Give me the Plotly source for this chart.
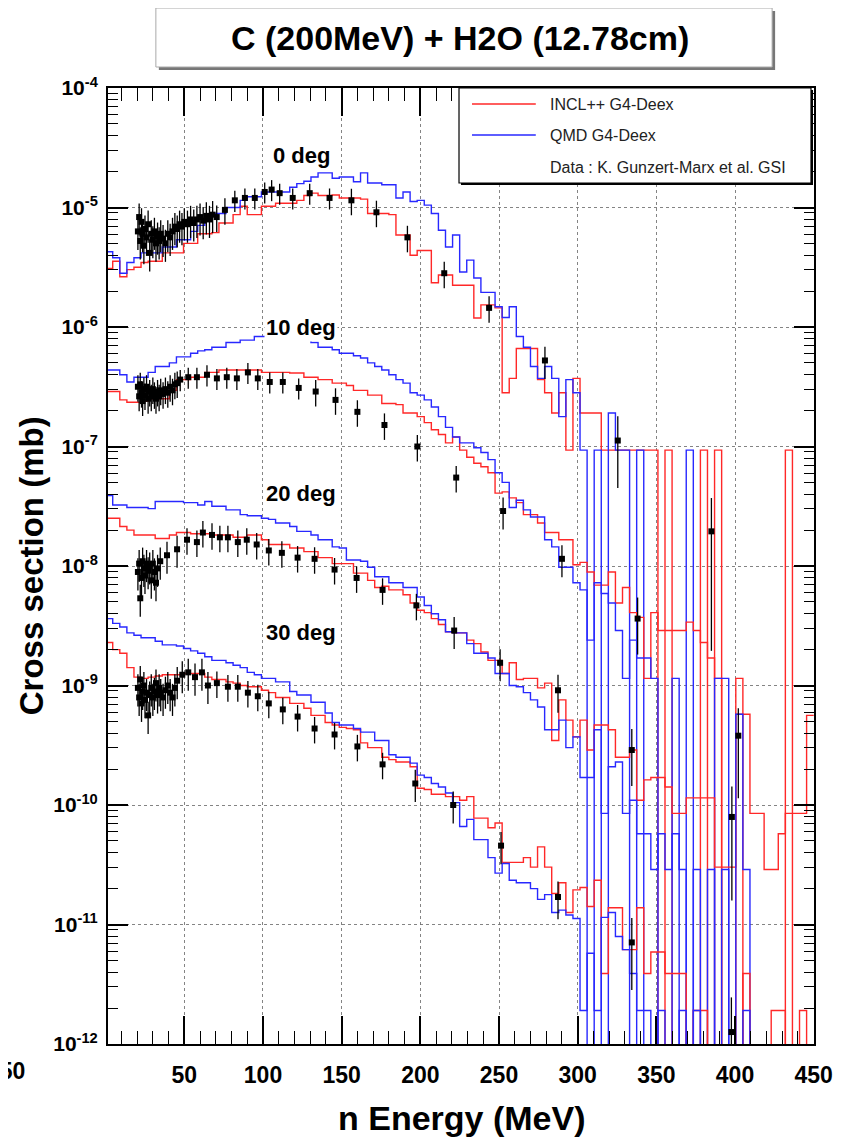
import plotly.graph_objects as go

# ---------------- data ----------------
# Histogram bins: 100 bins of 4.5 MeV between 0 and 450 MeV
bin_edges_mev = [round(4.5 * i, 2) for i in range(101)]

# log10(cross section [mb]) per bin; None = empty bin
incl_0deg = [
    -5.51, -5.45, -5.58, -5.52, -5.50, -5.46, -5.45, -5.45, -5.38, -5.38,
    -5.38, -5.30, -5.30, -5.22, -5.22, -5.21, -5.13, -5.13, -5.06, -4.99,
    -5.06, -5.06, -4.99, -4.99, -4.965, -4.965, -4.965, -4.94, -4.90, -4.88,
    -4.90, -4.90, -4.895, -4.92, -4.92, -4.92, -4.93, -5.05, -5.05, -5.05,
    -5.06, -5.23, -5.23, -5.40, -5.36, -5.36, -5.63, -5.565, -5.565, -5.65,
    -5.65, -5.65, -5.925, -5.815, -5.815, -5.84, -6.55, -6.43, -6.18, -6.18,
    -6.18, -6.44, -6.55, -6.72, -6.55, -7.03, -6.43, -6.72, -6.72, -6.72,
    -7.03, -7.03, -7.03, -7.03, -7.03, -7.03, -7.03, -7.03, None, -7.03,
    None, None, None, None, -7.03, None, -7.03, None, None, None,
    None, None, None, None, None, None, -7.03, None, None, None]
qmd_0deg = [
    -5.37, -5.42, -5.55, -5.46, -5.42, -5.38, -5.38, -5.38, -5.33, -5.33,
    -5.27, -5.27, -5.20, -5.15, -5.11, -5.05, -5.05, -5.00, -5.00, -4.94,
    -4.91, -4.91, -4.87, -4.87, -4.87, -4.87, -4.83, -4.80, -4.78, -4.745,
    -4.71, -4.71, -4.755, -4.745, -4.745, -4.785, -4.71, -4.795, -4.795, -4.81,
    -4.81, -4.92, -4.87, -4.95, -4.94, -4.98, -5.05, -5.19, -5.33, -5.23,
    -5.54, -5.44, -5.59, -5.71, -5.71, -5.83, -5.92, -5.83, -6.08, -6.17,
    -6.33, -6.43, -6.33, -6.43, -6.75, -6.44, -6.55, -7.03, None, -7.03,
    None, -6.72, -7.03, -7.03, None, -7.03, None, None, None, None,
    None, None, -7.03, None, None, None, None, None, None, None,
    None, None, None, None, None, None, None, None, None, None]
incl_10deg = [
    -6.54, -6.54, -6.61, -6.63, -6.63, -6.62, -6.60, -6.60, -6.60, -6.53,
    -6.44, -6.44, -6.42, -6.42, -6.38, -6.38, -6.36, -6.36, -6.36, -6.36,
    -6.36, -6.36, -6.38, -6.38, -6.38, -6.38, -6.385, -6.385, -6.42, -6.42,
    -6.44, -6.44, -6.47, -6.47, -6.49, -6.53, -6.53, -6.57, -6.57, -6.64,
    -6.64, -6.65, -6.72, -6.72, -6.75, -6.80, -6.86, -6.90, -6.97, -6.92,
    -7.03, -7.09, -7.14, -7.17, -7.22, -7.39, -7.38, -7.43, -7.47, -7.57,
    -7.57, -7.64, -7.72, -7.72, -7.78, -7.78, -7.99, -7.97, -8.05, -8.16,
    -8.16, -8.05, -8.31, -8.18, -8.39, -8.43, -8.94, -8.39, -8.54, -8.54,
    -8.54, -8.54, -8.47, -8.54, -8.64, -8.77, -8.94, None, None, -8.94,
    None, None, None, None, None, None, None, None, None, None]
qmd_10deg = [
    -6.36, -6.36, -6.40, -6.46, -6.42, -6.42, -6.38, -6.33, -6.33, -6.30,
    -6.25, -6.25, -6.22, -6.20, -6.19, -6.17, -6.17, -6.13, -6.13, -6.11,
    -6.11, -6.08, -6.08, -6.08, -6.10, -6.10, -6.10, -6.11, -6.11, -6.13,
    -6.17, -6.17, -6.19, -6.22, -6.22, -6.24, -6.26, -6.30, -6.33, -6.36,
    -6.40, -6.44, -6.47, -6.55, -6.57, -6.61, -6.67, -6.75, -6.84, -6.92,
    -6.97, -6.97, -7.01, -7.05, -7.11, -7.22, -7.30, -7.51, -7.45, -7.53,
    -7.59, -7.59, -7.78, -7.84, -8.01, -8.01, -8.14, -8.20, -8.62, -8.14,
    -8.23, -8.31, -8.54, -8.94, -8.62, -8.77, -8.77, -8.94, None, None,
    -8.94, None, None, None, None, None, -8.94, -8.94, None, None,
    None, None, None, None, None, None, None, None, None, None]
incl_20deg = [
    -7.60, -7.60, -7.67, -7.70, -7.74, -7.74, -7.74, -7.77, -7.77, -7.74,
    -7.72, -7.72, -7.73, -7.73, -7.73, -7.74, -7.74, -7.74, -7.76, -7.76,
    -7.74, -7.74, -7.78, -7.82, -7.82, -7.82, -7.85, -7.85, -7.88, -7.88,
    -7.93, -7.93, -7.98, -7.98, -7.98, -8.06, -8.06, -8.12, -8.18, -8.17,
    -8.20, -8.20, -8.24, -8.31, -8.37, -8.39, -8.44, -8.49, -8.55, -8.56,
    -8.56, -8.62, -8.65, -8.72, -8.79, -8.79, -8.90, -8.81, -8.95, -8.94,
    -8.94, -9.02, -8.98, -9.46, -9.12, -9.29, -9.43, -9.29, -9.54, -9.33,
    -9.33, -9.37, -9.60, -9.60, -9.54, -9.96, -9.79, -9.77, -9.77, -9.85,
    -10.07, -10.07, -9.94, -9.94, -9.94, -9.94, -10.52, -10.52, -10.52, -9.24,
    -9.24, -10.07, -10.07, -10.54, -10.54, -10.24, -10.07, -10.07, -10.07, -9.25]
qmd_20deg = [
    -7.41, -7.49, -7.49, -7.51, -7.51, -7.51, -7.52, -7.46, -7.46, -7.46,
    -7.46, -7.47, -7.47, -7.49, -7.46, -7.50, -7.50, -7.53, -7.53, -7.57,
    -7.58, -7.58, -7.60, -7.61, -7.64, -7.64, -7.67, -7.71, -7.71, -7.74,
    -7.78, -7.78, -7.84, -7.85, -7.95, -7.95, -7.96, -8.01, -8.09, -8.09,
    -8.14, -8.14, -8.18, -8.18, -8.26, -8.33, -8.40, -8.45, -8.55, -8.56,
    -8.56, -8.65, -8.73, -8.73, -8.77, -8.90, -8.90, -9.00, -9.01, -9.06,
    -9.12, -9.18, -9.37, -9.37, -9.29, -9.52, -9.43, -9.77, -9.77, -9.37,
    -10.07, -9.68, -9.64, -10.07, -9.96, -10.24, -10.24, -10.54, -10.24, -10.54,
    -10.24, -10.54, None, -10.54, None, -10.54, None, -10.54, None, -9.24,
    -10.54, None, None, None, None, None, None, None, None, None]
incl_30deg = [
    -8.64, -8.70, -8.73, -8.85, -8.93, -8.94, -8.93, -8.92, -8.91, -8.91,
    -8.91, -8.90, -8.90, -8.90, -8.93, -8.95, -8.95, -8.97, -8.98, -9.00,
    -9.01, -9.01, -9.04, -9.06, -9.10, -9.10, -9.15, -9.15, -9.19, -9.25,
    -9.25, -9.31, -9.33, -9.35, -9.36, -9.37, -9.48, -9.52, -9.52, -9.60,
    -9.62, -9.64, -9.64, -9.68, -9.86, -9.87, -9.91, -9.91, -9.93, -9.93,
    -9.96, -9.93, -10.11, -10.11, -10.19, -10.15, -10.48, -10.48, -10.48, -10.44,
    -10.52, -10.35, -10.52, -10.74, -10.65, -10.90, -10.71, -10.69, -10.85, -10.63,
    -11.41, -10.86, -10.86, -11.21, -11.21, -10.86, -11.41, -11.23, -11.23, -11.41,
    -11.41, -11.41, None, -11.72, -11.72, None, None, None, None, None,
    -11.41, None, None, None, -11.72, -11.72, None, None, -11.72, None]
qmd_30deg = [
    -8.44, -8.48, -8.51, -8.56, -8.58, -8.60, -8.60, -8.63, -8.66, -8.66,
    -8.67, -8.69, -8.71, -8.73, -8.76, -8.79, -8.79, -8.81, -8.83, -8.85,
    -8.89, -8.91, -8.94, -8.94, -8.97, -8.97, -9.05, -9.08, -9.08, -9.14,
    -9.14, -9.23, -9.31, -9.33, -9.33, -9.36, -9.39, -9.39, -9.46, -9.46,
    -9.58, -9.60, -9.60, -9.65, -9.75, -9.77, -9.82, -9.85, -9.90, -9.98,
    -10.18, -10.12, -10.29, -10.29, -10.44, -10.57, -10.49, -10.63, -10.65, -10.65,
    -10.70, -10.79, -10.75, -10.90, -10.88, -10.92, -10.95, -11.72, -11.24, -11.72,
    -10.94, -10.90, -11.10, -11.21, -11.41, -11.72, -11.72, None, -11.72, None,
    None, -11.72, None, -11.72, None, None, None, None, None, None,
    -11.72, None, None, None, None, None, None, None, None, None]

# Measured points (Gunzert-Marx et al.): energy, log10(cross section), relative error
data_0deg_e = [20.5, 21.3, 22.0, 22.8, 23.5, 24.3, 25.0, 26.0, 27.0, 28.0, 29.0, 30.0,
               31.0, 32.0, 33.0, 34.0, 35.0, 36.5, 38.0, 39.5, 41.0, 42.5, 44.0, 45.5,
               47.0, 48.5, 50.0, 52.0, 54.0, 56.0, 58.0, 60.0, 62.0, 64.0, 66.0, 68.0,
               70.6, 75.8, 82.1, 88.5, 94.8, 101.1, 105.5, 110.6, 118.9, 129.7, 142.3,
               156.2, 172.1, 191.8, 215.2, 243.7, 279.2, 325.5]
data_0deg_log = [-5.20, -5.08, -5.28, -5.12, -5.22, -5.32, -5.18, -5.25, -5.14, -5.38, -5.22, -5.27,
                 -5.20, -5.30, -5.24, -5.28, -5.22, -5.26, -5.30, -5.22, -5.25, -5.20, -5.16, -5.18,
                 -5.14, -5.16, -5.12, -5.14, -5.10, -5.13, -5.10, -5.08, -5.11, -5.07, -5.10, -5.06,
                 -5.08, -5.02, -4.94, -4.92, -4.92, -4.87, -4.85, -4.88, -4.92, -4.88, -4.92,
                 -4.94, -5.04, -5.25, -5.55, -5.84, -6.28, -6.95]
data_0deg_rel = [0.3] * 36 + [0.25, 0.25, 0.2, 0.2, 0.2, 0.2, 0.2, 0.2, 0.2, 0.2, 0.2,
                              0.25, 0.25, 0.25, 0.25, 0.25, 0.3, 0.6]

data_10deg_e = [20.5, 21.3, 22.0, 22.8, 23.5, 24.3, 25.0, 26.0, 27.0, 28.0, 29.0, 30.0,
                31.0, 32.0, 33.0, 34.0, 35.0, 36.5, 38.0, 39.5, 41.0, 42.5, 44.0, 45.5,
                47.4, 52.5, 58.0, 64.4, 70.7, 77.0, 83.4, 90.4, 96.7, 104.3, 112.6, 122.7,
                133.5, 146.1, 160.0, 177.2, 198.1, 222.8, 252.6, 290.0, 338.1, 385.0]
data_10deg_log = [-6.50, -6.58, -6.48, -6.55, -6.62, -6.52, -6.57, -6.50, -6.60, -6.54, -6.58, -6.52,
                  -6.56, -6.60, -6.54, -6.58, -6.53, -6.56, -6.52, -6.55, -6.50, -6.53, -6.48, -6.47,
                  -6.44, -6.42, -6.42, -6.40, -6.43, -6.42, -6.43, -6.38, -6.43, -6.46, -6.46, -6.51,
                  -6.54, -6.61, -6.71, -6.82, -7.00, -7.26, -7.54, -7.94, -8.44, -7.71]
data_10deg_rel = [0.25] * 24 + [0.2, 0.2, 0.2, 0.2, 0.2, 0.2, 0.2, 0.2, 0.2, 0.2, 0.2, 0.2,
                                0.25, 0.25, 0.25, 0.25, 0.25, 0.25, 0.3, 0.3, 0.5, 0.9]

data_20deg_e = [20.5, 21.3, 22.0, 22.8, 23.5, 24.3, 25.0, 26.0, 27.0, 28.0, 29.0, 30.0,
                31.0, 32.0, 33.0,
                34.7, 39.0, 45.4, 51.7, 58.0, 61.8, 67.6, 72.6, 77.7, 84.0, 89.7, 96.0,
                103.7, 112.0, 122.0, 132.8, 145.5, 159.5, 176.0, 197.5, 221.5, 250.7,
                287.5, 334.4, 398.0, 402.1]
data_20deg_log = [-8.05, -7.98, -8.27, -8.10, -7.96, -8.02, -8.08, -7.98, -8.04, -8.00, -8.12, -7.98,
                  -8.05, -8.14, -8.02,
                  -7.96, -7.91, -7.86, -7.78, -7.80, -7.72, -7.74, -7.76, -7.76, -7.80, -7.78, -7.82,
                  -7.87, -7.89, -7.93, -7.94, -8.03, -8.10, -8.20, -8.33, -8.54, -8.81,
                  -9.04, -9.54, -10.10, -9.42]
data_20deg_rel = [0.3] * 15 + [0.3, 0.3, 0.3, 0.25, 0.25, 0.25, 0.25, 0.25, 0.25, 0.25, 0.25, 0.25,
                               0.25, 0.25, 0.25, 0.25, 0.25, 0.25, 0.25, 0.25, 0.3, 0.3,
                               0.35, 0.5, 0.8, 0.7]

data_30deg_e = [20.5, 21.3, 22.0, 22.8, 23.5, 24.3, 25.0, 26.0, 27.0, 28.0, 29.0, 30.0,
                31.0, 32.0, 33.0, 34.0, 35.0, 36.5, 38.0, 39.5, 41.0, 42.5, 44.0, 45.5,
                48.7, 52.5, 56.8, 61.2, 65.0, 70.7, 77.7, 84.0, 90.4, 96.7, 103.7, 112.6,
                122.0, 132.8, 145.5, 160.0, 176.0, 196.8, 220.9, 251.3, 287.5, 334.4, 397.7]
data_30deg_log = [-9.02, -9.10, -8.95, -9.15, -9.05, -9.00, -9.12, -9.06, -9.25, -9.08, -9.02, -9.10,
                  -9.05, -8.98, -9.08, -9.02, -9.06, -9.10, -9.04, -9.00, -9.06, -9.10, -9.02, -8.96,
                  -8.91, -8.89, -8.93, -8.89, -9.00, -8.98, -9.01, -9.01, -9.06, -9.09, -9.15, -9.20,
                  -9.26, -9.36, -9.41, -9.51, -9.66, -9.82, -10.00, -10.34, -10.77, -11.15, -11.90]
data_30deg_rel = [0.3] * 24 + [0.3, 0.3, 0.3, 0.3, 0.3, 0.25, 0.25, 0.25, 0.25, 0.25, 0.25, 0.25,
                               0.25, 0.25, 0.25, 0.25, 0.25, 0.3, 0.3, 0.3, 0.35, 0.6, 0.95]

y_tick_vals = [1e-12, 1e-11, 1e-10, 1e-9, 1e-8, 1e-7, 1e-6, 1e-5, 1e-4]
y_tick_text = ["10<sup>-12</sup>", "10<sup>-11</sup>", "10<sup>-10</sup>", "10<sup>-9</sup>",
               "10<sup>-8</sup>", "10<sup>-7</sup>", "10<sup>-6</sup>", "10<sup>-5</sup>",
               "10<sup>-4</sup>"]
angle_labels = ["0 deg", "10 deg", "20 deg", "30 deg"]
legend_labels = ["INCL++ G4-Deex", "QMD G4-Deex", "Data : K. Gunzert-Marx et al. GSI"]
title_text = "C (200MeV) + H2O (12.78cm)"
neighbour_tick_label = "450"  # last x label of the neighbouring panel, cut by the left edge

# ---------------- figure ----------------
# The page body adds an 8 px margin, so the figure is 8 px smaller and all
# positions below are given in page pixels and shifted by OFF.
OFF = 8
W, H = 845 - OFF, 1141 - OFF
ML, MR, MT, MB = 108 - OFF, 29, 88 - OFF, 97
PW, PH = W - ML - MR, H - MT - MB
FONT = "Liberation Sans, Arial, Helvetica, sans-serif"
RED = "rgb(255,40,40)"
BLUE = "rgb(40,40,255)"
EMPTY = 1e-14  # empty bins drop below the frame, as in ROOT


def fx(p):
    return (p - OFF - ML) / PW


def fy(p):
    return (H - MB - (p - OFF)) / PH


fig = go.Figure()


def add_hist(logvals, color, name):
    assert len(logvals) == len(bin_edges_mev) - 1, name
    ys = [10 ** v if v is not None else EMPTY for v in logvals]
    ys = ys + [ys[-1]]
    fig.add_trace(go.Scatter(x=bin_edges_mev, y=ys, mode="lines", name=name,
                             line=dict(shape="hv", color=color, width=1.4),
                             showlegend=False, hoverinfo="skip"))


def add_data(es, logs, rels, name):
    assert len(es) == len(logs) == len(rels), name
    vals = [10 ** v for v in logs]
    errs = [v * r for v, r in zip(vals, rels)]
    fig.add_trace(go.Scatter(x=es, y=vals, mode="markers", name=name,
                             marker=dict(symbol="square", size=6, color="black"),
                             error_y=dict(type="data", array=errs, symmetric=True,
                                          color="black", thickness=1.3, width=0),
                             showlegend=False))


for inc, qmd, tag in [(incl_0deg, qmd_0deg, "0"), (incl_10deg, qmd_10deg, "10"),
                      (incl_20deg, qmd_20deg, "20"), (incl_30deg, qmd_30deg, "30")]:
    add_hist(inc, RED, "INCL++ " + tag + " deg")
    add_hist(qmd, BLUE, "QMD " + tag + " deg")

add_data(data_0deg_e, data_0deg_log, data_0deg_rel, "Data 0 deg")
add_data(data_10deg_e, data_10deg_log, data_10deg_rel, "Data 10 deg")
add_data(data_20deg_e, data_20deg_log, data_20deg_rel, "Data 20 deg")
add_data(data_30deg_e, data_30deg_log, data_30deg_rel, "Data 30 deg")

grid = dict(showgrid=True, gridcolor="rgba(110,110,110,0.85)", gridwidth=1, griddash="dot")
y_minor_vals = [m * 10.0 ** d for d in range(-12, -4) for m in range(2, 10)]

fig.update_xaxes(range=[1.5, 450.2], showline=True, linecolor="black", linewidth=2,
                 mirror="ticks", ticks="inside", ticklen=28, tickwidth=1.5, tickcolor="black",
                 tick0=0, dtick=50, zeroline=False,
                 tickfont=dict(family=FONT, size=23, color="black", weight="bold"),
                 ticklabelstandoff=9,
                 minor=dict(ticks="inside", ticklen=13, tickwidth=1, tickcolor="black",
                            dtick=10, showgrid=False),
                 **grid)
fig.update_yaxes(type="log", range=[-12, -4], showline=True, linecolor="black", linewidth=2,
                 mirror="ticks", ticks="inside", ticklen=20, tickwidth=1.5, tickcolor="black",
                 tickmode="array", tickvals=y_tick_vals, ticktext=y_tick_text, zeroline=False,
                 tickfont=dict(family=FONT, size=21, color="black", weight="bold"),
                 ticklabelstandoff=4,
                 minor=dict(ticks="inside", ticklen=10, tickwidth=1, tickcolor="black",
                            tickmode="array", tickvals=y_minor_vals, showgrid=False),
                 **grid)

shapes = [
    # title pave with shadow
    dict(type="rect", xref="paper", yref="paper", x0=fx(159), x1=fx(777), y0=fy(70), y1=fy(11),
         fillcolor="#777777", line=dict(width=0)),
    dict(type="rect", xref="paper", yref="paper", x0=fx(156), x1=fx(774), y0=fy(67), y1=fy(8),
         fillcolor="white", line=dict(color="#aaaaaa", width=1)),
    # legend box
    dict(type="rect", xref="paper", yref="paper", x0=fx(462), x1=fx(815), y0=fy(185), y1=fy(90),
         fillcolor="black", line=dict(width=0), layer="above"),
    dict(type="rect", xref="paper", yref="paper", x0=fx(460), x1=fx(813), y0=fy(183), y1=fy(88),
         fillcolor="white", line=dict(color="black", width=1.2), layer="above"),
    dict(type="line", xref="paper", yref="paper", x0=fx(473), x1=fx(537), y0=fy(104), y1=fy(104),
         line=dict(color=RED, width=1.5), layer="above"),
    dict(type="line", xref="paper", yref="paper", x0=fx(473), x1=fx(537), y0=fy(135), y1=fy(135),
         line=dict(color=BLUE, width=1.5), layer="above"),
]

annotations = [
    dict(text=title_text, x=fx(461), y=fy(38), xref="paper", yref="paper", showarrow=False,
         xanchor="center", yanchor="middle",
         font=dict(family=FONT, size=34, color="black", weight="bold")),
    dict(text="Cross section (mb)", x=fx(31), y=fy(566), xref="paper", yref="paper",
         showarrow=False, textangle=-90, xanchor="center", yanchor="middle",
         font=dict(family=FONT, size=33, color="black", weight="bold")),
    dict(text="n Energy (MeV)", x=fx(463), y=fy(1118), xref="paper", yref="paper",
         showarrow=False, xanchor="center", yanchor="middle",
         font=dict(family=FONT, size=34, color="black", weight="bold")),
    dict(text=neighbour_tick_label, x=fx(27), y=fy(1071), xref="paper", yref="paper",
         showarrow=False, xanchor="right", yanchor="middle",
         font=dict(family=FONT, size=23, color="black", weight="bold")),
]
for lab, cy in zip(angle_labels, [155, 327, 493, 633]):
    annotations.append(dict(text=lab, x=fx(302), y=fy(cy), xref="paper", yref="paper",
                            showarrow=False, xanchor="center", yanchor="middle",
                            bgcolor="white",
                            font=dict(family=FONT, size=22, color="black", weight="bold")))
for lab, cy in zip(legend_labels, [104, 135, 167]):
    annotations.append(dict(text=lab, x=fx(549), y=fy(cy), xref="paper", yref="paper",
                            showarrow=False, xanchor="left", yanchor="middle",
                            font=dict(family=FONT, size=16, color="#222222")))

fig.update_layout(width=W, height=H, margin=dict(l=ML, r=MR, t=MT, b=MB, pad=0),
                  paper_bgcolor="white", plot_bgcolor="white", showlegend=False,
                  shapes=shapes, annotations=annotations)

fig.write_html("out.html")
